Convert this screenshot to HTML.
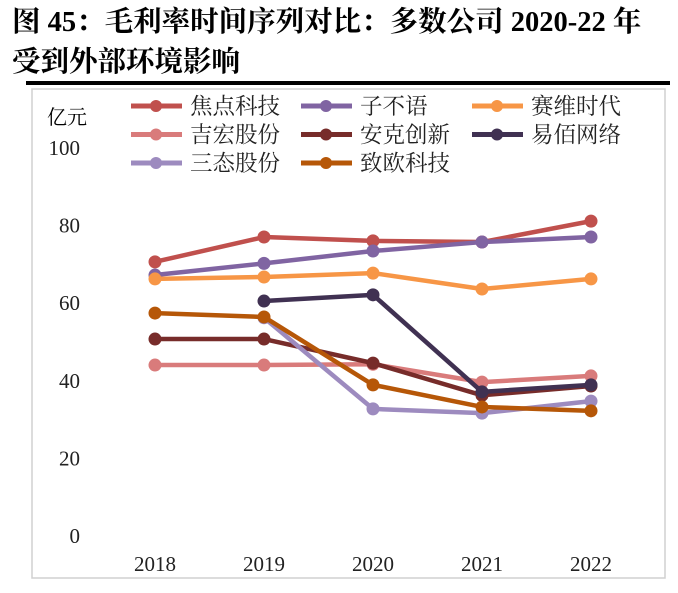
<!DOCTYPE html>
<html><head><meta charset="utf-8"><style>
body{margin:0;background:#fff;}
svg text{font-family:"Liberation Serif","Noto Serif CJK SC",serif;}
</style></head><body>
<svg width="678" height="588" viewBox="0 0 678 588" xmlns="http://www.w3.org/2000/svg">
<g>
<text x="12" y="31" font-size="28.5" font-weight="bold" fill="#000">图 45：毛利率时间序列对比：多数公司 2020-22 年</text>
<text x="12" y="71" font-size="28.5" font-weight="bold" fill="#000">受到外部环境影响</text>
</g>
<rect x="26" y="81" width="644" height="4" fill="#000"/>
<rect x="32" y="89" width="633" height="489" fill="none" stroke="#d0d0d0" stroke-width="1.5"/>
<text x="47" y="124" font-size="20" fill="#000">亿元</text>
<g id="axes"></g>
<g id="legend"></g>
<g id="series"></g>
</svg>
<script>
const categories=['2018','2019','2020','2021','2022'];
const yTicks=[0,20,40,60,80,100];
const names=['焦点科技','子不语','赛维时代','吉宏股份','安克创新','易佰网络','三态股份','致欧科技'];
const colors=['#c0504d','#8064a2','#f79646','#d97b7b','#772c2a','#403152','#9d8bbf','#b65708'];
const s0=[70.4,76.8,75.8,75.5,80.9];
const s1=[67,70,73.2,75.5,76.8];
const s2=[66,66.5,67.5,63.4,66];
const s3=[43.8,43.8,44,39.4,41];
const s4=[50.5,50.5,44.3,36,38.4];
const s5=[null,60.3,61.9,36.9,38.7];
const s6=[null,56,32.5,31.4,34.5];
const s7=[57.2,56.2,38.7,33,32];
const series=[s0,s1,s2,s3,s4,s5,s6,s7];
const NS='http://www.w3.org/2000/svg';
const xS=i=>155+i*109;
const yS=v=>535-v*3.88;
function mk(t,a,p){const e=document.createElementNS(NS,t);for(const k in a)e.setAttribute(k,a[k]);p.appendChild(e);return e;}
const ax=document.getElementById('axes');
yTicks.forEach(v=>{const t=mk('text',{x:80,y:yS(v)+8,'text-anchor':'end','font-size':'21',fill:'#222'},ax);t.textContent=v;

});
categories.forEach((c,i)=>{const t=mk('text',{x:xS(i),y:571,'text-anchor':'middle','font-size':'21',fill:'#222'},ax);t.textContent=c;

});
const lg=document.getElementById('legend');
names.forEach((n,k)=>{const col=k%3,row=Math.floor(k/3);const x=[131,301,472][col],y=106+row*28.5;
const g=mk('g',{},lg);


mk('line',{x1:x,y1:y,x2:x+51,y2:y,stroke:colors[k],'stroke-width':5},g);
mk('circle',{cx:x+25,cy:y,r:6,fill:colors[k]},g);
const t=mk('text',{x:x+59,y:y+8,'font-size':'22.5',fill:'#222'},g);t.textContent=n;});
const sg=document.getElementById('series');
series.forEach((s,k)=>{const g=mk('g',{},sg);


let d='';s.forEach((v,i)=>{if(v==null)return;d+=(d?'L':'M')+xS(i)+' '+yS(v);});
mk('path',{d:d,fill:'none',stroke:colors[k],'stroke-width':4.5,'stroke-linejoin':'round'},g);
s.forEach((v,i)=>{if(v==null)return;const c=mk('circle',{cx:xS(i),cy:yS(v),r:6.5,fill:colors[k]},g);

});});
</script>
</body></html>
